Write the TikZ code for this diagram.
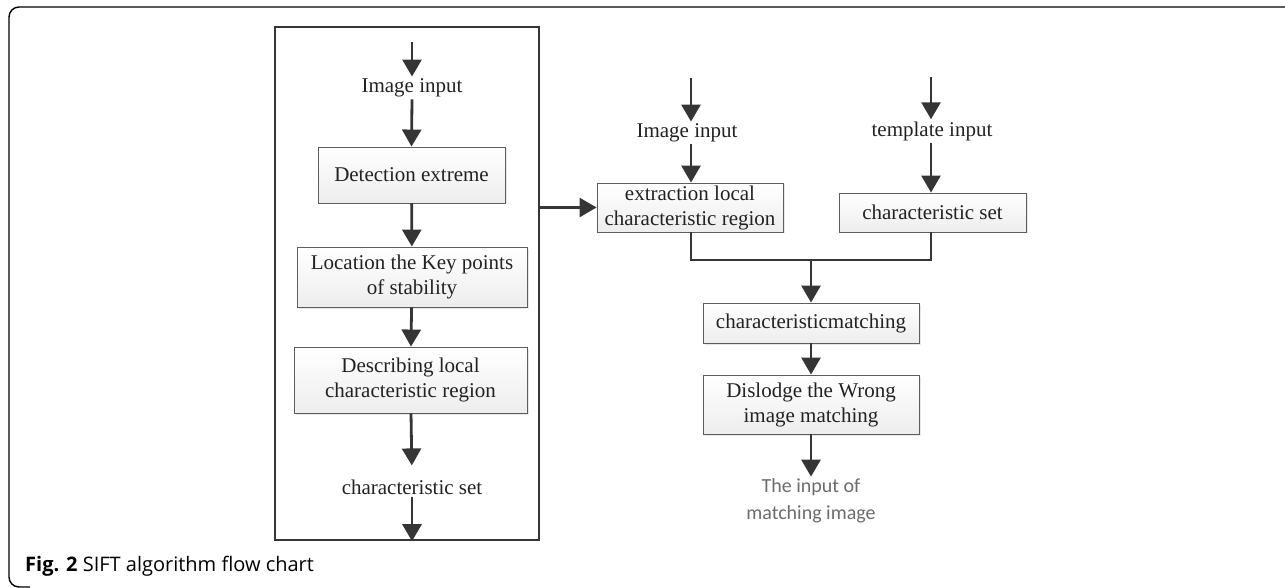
\documentclass[tikz,border=0pt]{standalone}
\usepackage{fontspec}
\setmainfont{Liberation Serif}
\newfontfamily\capfont{Open Sans}
\newfontfamily\outfont{Carlito}
\usetikzlibrary{arrows.meta,shadows}
\definecolor{flowgray}{HTML}{353535}
\definecolor{textgray}{HTML}{222222}
\tikzset{
	procbox/.style={draw=flowgray!80, line width=0.9pt, top color=white, bottom color=gray!14,
		drop shadow={opacity=0.18, shadow xshift=1.5pt, shadow yshift=-1.5pt},
		align=center, inner sep=2pt, font=\fontsize{21}{25}\selectfont, text=textgray},
	plaintext/.style={align=center, inner sep=2pt, font=\fontsize{21}{25}\selectfont, text=textgray},
	flowarrow/.style={draw=flowgray, line width=2.8pt, -{Triangle[width=19pt,length=17pt]}},
	flowline/.style={draw=flowgray, line width=2.8pt}
}
\begin{document}
\begin{tikzpicture}[x=1pt, y=-1pt]
	\useasboundingbox (0,0) rectangle (1285,588);
	\draw[line width=1.4pt, rounded corners=10pt] (1285,7) -- (9,7) -- (9,587) -- (30,587);

	% left block
	\node[draw=flowgray, line width=2.4pt, minimum width=264, minimum height=513] (sift) at (407,283.5) {};
	\coordinate (siftin) at (412,42);
	\node[plaintext] (imgA) at (412,88) {Image input};
	\node[procbox, minimum width=187, minimum height=56] (detect) at (411.5,175) {Detection extreme};
	\node[procbox, minimum width=230, minimum height=60] (locate) at (412,277) {Location the Key points\\of stability};
	\node[procbox, minimum width=233, minimum height=66] (describe) at (410.5,380) {Describing local\\characteristic region};
	\node[plaintext] (setA) at (412,487) {characteristic set};

	\draw[flowarrow] (siftin) -- (imgA.north);
	\draw[flowarrow] (imgA.south) -- (detect.north);
	\draw[flowarrow] (detect) -- (locate);
	\draw[flowarrow] (locate) -- (describe);
	\draw[flowarrow, shorten >=12pt] (describe) -- (setA.north);
	\draw[flowarrow] (setA.south) -- (sift.south -| setA);

	% right block
	\coordinate (imgin) at (691,78);
	\coordinate (tplin) at (931,77);
	\node[plaintext] (imgB) at (687,133) {Image input};
	\node[plaintext] (tpl) at (932,131) {template input};
	\node[procbox, minimum width=186, minimum height=49] (extract) at (690,207.5) {extraction local\\characteristic region};
	\node[procbox, minimum width=187, minimum height=39] (setB) at (932.5,212.5) {characteristic set};
	\node[procbox, minimum width=216, minimum height=40] (match) at (811,323) {characteristicmatching};
	\node[procbox, minimum width=216, minimum height=59] (dislodge) at (811,404.5) {Dislodge the Wrong\\image matching};
	\node[align=center, inner sep=2pt, font=\outfont\fontsize{20}{27}\selectfont, text=gray!85!black] (result) at (811,501) {The input of\\matching image};
	\coordinate (join) at (811,260);

	\draw[flowarrow] (imgin) -- (imgin |- imgB.north);
	\draw[flowarrow] (imgin |- imgB.south) -- (imgin |- extract.north);
	\draw[flowarrow] (tplin) -- (tplin |- tpl.north);
	\draw[flowarrow] (tplin |- tpl.south) -- (tplin |- setB.north);
	\draw[flowarrow] (sift.east |- extract.west) -- (extract.west);
	\draw[flowline] (imgin |- extract.south) -- (imgin |- join) -- (tplin |- join) -- (tplin |- setB.south);
	\draw[flowarrow] (join) -- (match.north);
	\draw[flowarrow] (match) -- (dislodge);
	\draw[flowarrow] (dislodge) -- (result.north);

	\node[anchor=base west, inner sep=0pt, font=\capfont\fontsize{20}{24}\selectfont] (caption) at (25,571) {\textbf{Fig. 2} SIFT algorithm flow chart};
\end{tikzpicture}
\end{document}
